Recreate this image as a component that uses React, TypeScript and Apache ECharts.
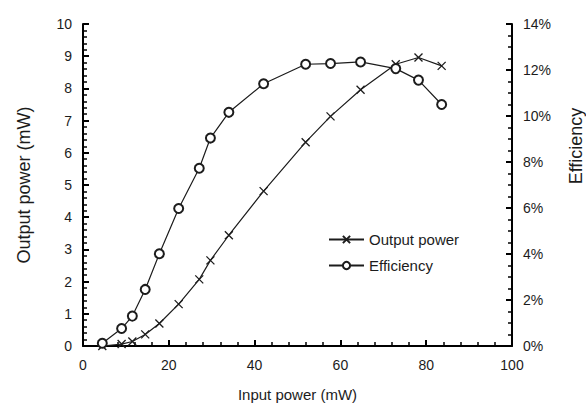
import React, { useEffect, useRef } from "react";
import * as echarts from "echarts";

// Values
const inputPower = [4.5, 9.0, 11.5, 14.5, 17.8, 22.3, 27.1, 29.7, 34.0, 42.1, 51.9, 57.7, 64.7, 72.9, 78.2, 83.6];
const outputPower = [0.0, 0.06, 0.14, 0.36, 0.7, 1.3, 2.07, 2.66, 3.44, 4.81, 6.33, 7.13, 7.96, 8.75, 8.96, 8.7];
const efficiency = [0.12, 0.76, 1.3, 2.46, 4.01, 5.98, 7.73, 9.04, 10.16, 11.4, 12.25, 12.28, 12.35, 12.06, 11.56, 10.5];

const seriesNames = ["Output power", "Efficiency"];
const xAxisName = "Input power (mW)";
const leftAxisName = "Output power (mW)";
const rightAxisName = "Efficiency";

const FONT = "'Liberation Sans', Arial, Helvetica, sans-serif";
const INK = "#1c1c1c";
const AXIS_INK = "rgb(0,0,0)";

export default function App() {
  const ref = useRef<HTMLDivElement>(null);

  useEffect(() => {
    document.body.style.margin = "0";
    const chart = echarts.init(ref.current as HTMLDivElement, null, { renderer: "svg" });

    const outPts = inputPower.map((x, i) => [x, outputPower[i]]);
    const effPts = inputPower.map((x, i) => [x, efficiency[i]]);
    const crossPath = "path://M0,0L10,10M10,0L0,10";

    const mkAxisLine = () => ({ show: true, lineStyle: { color: AXIS_INK, width: 2, opacity: 1 } });
    const mkTick = () => ({ show: true, inside: true, length: 6, lineStyle: { color: AXIS_INK, width: 2, opacity: 1 } });
    const mkMinor = (n: number) => ({
      show: true,
      splitNumber: n,
      length: 4,
      lineStyle: { color: AXIS_INK, width: 1.5, opacity: 1 },
    });

    const option: any = {
      animation: false,
      grid: { left: 83, right: 74, top: 24, bottom: 59, outerBoundsMode: "none", containLabel: false },
      legend: {
        orient: "vertical",
        left: 323,
        top: 227,
        itemWidth: 35,
        itemHeight: 9,
        itemGap: 11,
        data: seriesNames,
        textStyle: { fontSize: 15, color: INK, fontFamily: FONT },
      },
      xAxis: {
        type: "value",
        min: 0,
        max: 100,
        interval: 20,
        name: xAxisName,
        nameLocation: "middle",
        nameGap: 41,
        nameTextStyle: { fontSize: 15, color: INK, fontFamily: FONT },
        axisLine: mkAxisLine(),
        axisTick: mkTick(),
        minorTick: mkMinor(5),
        axisLabel: { fontSize: 14, color: INK, margin: 12, fontFamily: FONT },
        splitLine: { show: false },
      },
      yAxis: [
        {
          type: "value",
          min: 0,
          max: 10,
          interval: 1,
          name: leftAxisName,
          nameLocation: "middle",
          nameGap: 50,
          nameTextStyle: { fontSize: 18, color: INK, fontFamily: FONT },
          axisLine: mkAxisLine(),
          axisTick: mkTick(),
          minorTick: mkMinor(5),
          axisLabel: { fontSize: 14, color: INK, margin: 11, fontFamily: FONT },
          splitLine: { show: false },
        },
        {
          type: "value",
          min: 0,
          max: 14,
          interval: 2,
          name: rightAxisName,
          nameLocation: "middle",
          nameGap: 55,
          nameTextStyle: { fontSize: 18, color: INK, fontFamily: FONT, padding: [0, 0, 0, 78] },
          axisLine: mkAxisLine(),
          axisTick: mkTick(),
          minorTick: mkMinor(4),
          axisLabel: { fontSize: 14, color: INK, margin: 11, fontFamily: FONT, formatter: "{value}%" },
          splitLine: { show: false },
        },
      ],
      series: [
        {
          name: seriesNames[0],
          type: "line",
          yAxisIndex: 0,
          data: outPts,
          symbol: crossPath,
          symbolSize: 8,
          lineStyle: { color: INK, width: 1.2 },
          itemStyle: { color: INK, borderColor: INK, borderWidth: 1.3 },
        },
        {
          name: seriesNames[1],
          type: "line",
          yAxisIndex: 1,
          data: effPts,
          symbol: "emptyCircle",
          symbolSize: 9,
          lineStyle: { color: INK, width: 1.2 },
          itemStyle: { color: INK, borderColor: INK, borderWidth: 1 },
        },
      ],
    };

    chart.setOption(option);
    return () => {
      chart.dispose();
    };
  }, []);

  return <div ref={ref} style={{ width: 586, height: 405 }} />;
}
